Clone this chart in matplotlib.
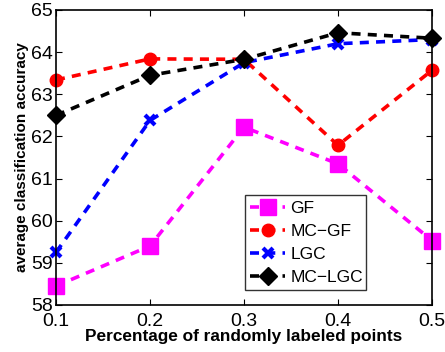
import numpy as np
import matplotlib
matplotlib.use("Agg")
import matplotlib.pyplot as plt

plt.rcParams['font.family'] = ['Liberation Sans', 'DejaVu Sans']

# data
x = [0.1, 0.2, 0.3, 0.4, 0.5]
gf = [58.45, 59.40, 62.22, 61.35, 59.53]
mc_gf = [63.34, 63.84, 63.83, 61.79, 63.57]
lgc = [59.25, 62.38, 63.75, 64.20, 64.30]
mc_lgc = [62.50, 63.45, 63.83, 64.46, 64.33]

x_ticks = [0.1, 0.2, 0.3, 0.4, 0.5]
y_ticks = [58, 59, 60, 61, 62, 63, 64, 65]

fig = plt.figure(figsize=(4.45, 3.52), dpi=100)
ax = fig.add_axes([56 / 445, 1 - 305 / 352, 376 / 445, 295 / 352])

lw = 2.6
d = (2.5, 2)
ax.plot(x, gf, '--', color='magenta', lw=lw, marker='s', ms=11, mec='magenta', label='GF', dashes=d, clip_on=False)
ax.plot(x, mc_gf, '--', color='red', lw=lw, marker='o', ms=9, label='MC\u2212GF', dashes=d, clip_on=False)
ax.plot(x, lgc, '--', color='blue', lw=lw, marker='x', ms=7, mew=3, label='LGC', dashes=d, clip_on=False)
ax.plot(x, mc_lgc, '--', color='black', lw=lw, marker='D', ms=9, label='MC\u2212LGC', dashes=d, clip_on=False)

ax.set_xlim(0.1, 0.5)
ax.set_ylim(58, 65)
ax.set_xticks(x_ticks)
ax.set_xticklabels([f'{t:.1f}' for t in x_ticks])
ax.set_yticks(y_ticks)
ax.tick_params(direction='in', top=True, right=True, labelsize=14, length=4, width=0.8)
ax.tick_params(axis='x', pad=6)
ax.tick_params(axis='y', pad=2)
for s in ax.spines.values():
    s.set_linewidth(1.2)

ax.set_xlabel('Percentage of randomly labeled points', fontsize=12.4, fontweight='bold', labelpad=-1)
ax.set_ylabel('average classification accuracy', fontsize=11, fontweight='bold', labelpad=2)

leg = ax.legend(loc='lower left', bbox_to_anchor=(0.503, 0.051, 0.321, 0.316), mode='expand',
                fontsize=12.5, frameon=True, fancybox=False, edgecolor='black',
                handlelength=2.0, handletextpad=0.3, borderpad=0.3, labelspacing=0.45,
                borderaxespad=0)
leg.get_frame().set_linewidth(1.0)

fig.savefig('out.png', dpi=100)
